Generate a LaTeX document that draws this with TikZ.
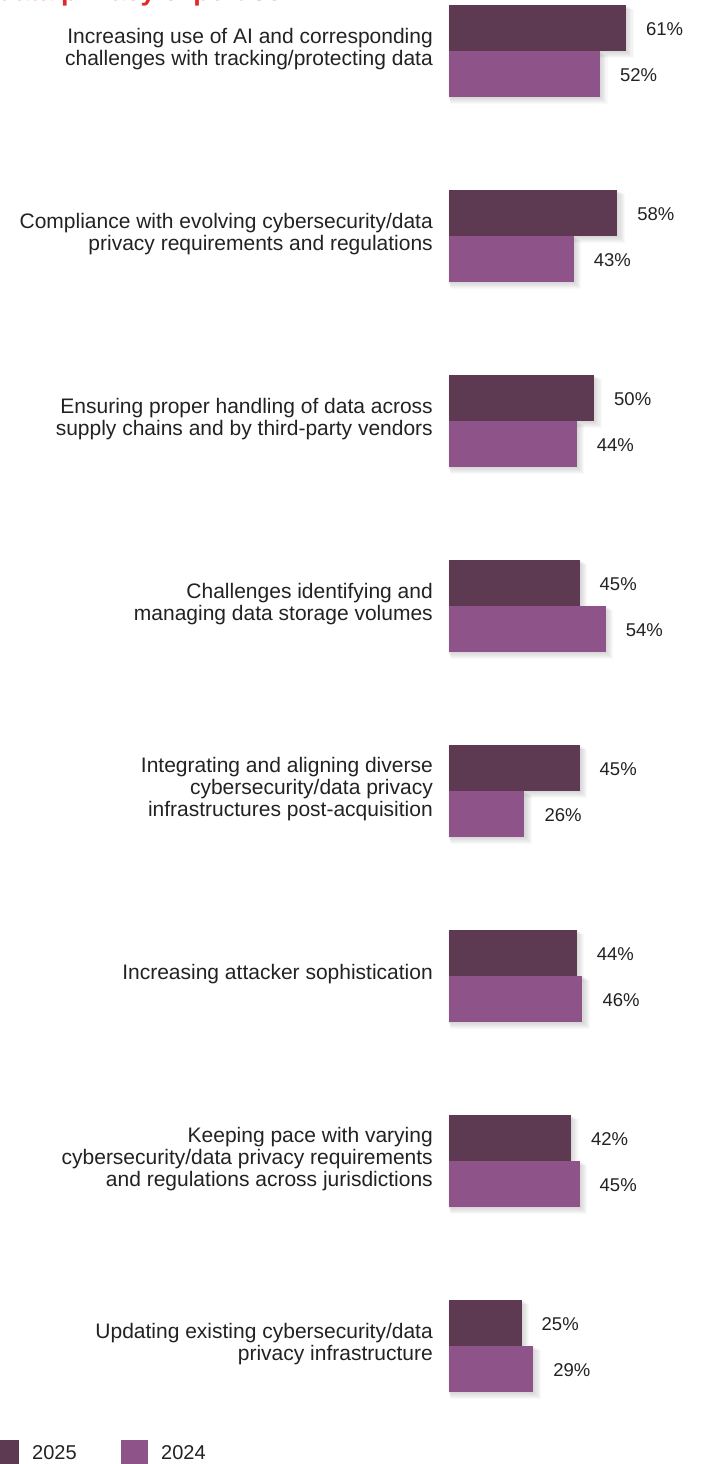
\documentclass[tikz,border=0pt]{standalone}
\usepackage{fontspec}
\setmainfont{Liberation Sans}
\definecolor{darkbar}{HTML}{5E3A52}
\definecolor{lightbar}{HTML}{8E5489}
\definecolor{titlered}{HTML}{E3262B}
\definecolor{txt}{HTML}{222222}
\newcommand\barshadow[3]{% top y, width, height
  \foreach \k in {1,...,7}{\fill[black,opacity=0.022] ({449-1+\k*0.4},{#1+\k*0.6}) rectangle ({449+#2+\k*1.1},{#1+#3+\k*1.0});}%
}
\newcommand\bargroup[5]{% #1 name, #2 top y, #3 category text, #4 value 2025, #5 value 2024
  \barshadow{#2}{2.9*#4}{46}
  \barshadow{#2+46}{2.9*#5}{46}
  \node[barbox, fill=darkbar, minimum width={2.9*#4pt}] (#1a) at (449,#2) {};
  \node[barbox, fill=lightbar, minimum width={2.9*#5pt}] (#1b) at (449,{#2+46}) {};
  \node[val] (#1av) at ([xshift=20pt,yshift=-1pt]#1a.east) {#4\%};
  \node[val] (#1bv) at ([xshift=20pt,yshift=-1pt]#1b.east) {#5\%};
  \node[cat] (#1t) at (433,{#2+44}) {#3};
}
\begin{document}
\begin{tikzpicture}[x=1pt,y=-1pt,
  barbox/.style={anchor=north west, minimum height=46pt, inner sep=0pt, outer sep=0pt, draw=none},
  cat/.style={anchor=east, align=right, inner sep=0pt, text=txt, font=\fontsize{21}{22}\selectfont},
  val/.style={anchor=west, inner sep=0pt, text=txt, font=\fontsize{18.5}{22}\selectfont},
  leg/.style={anchor=west, inner sep=0pt, text=txt, font=\fontsize{20}{22}\selectfont}]
\useasboundingbox (0,0) rectangle (701,1464);
\clip (0,0) rectangle (701,1464);
\node[anchor=base west, inner sep=0pt, text=titlered, font=\bfseries\fontsize{27}{30}\selectfont] (title) at (-2,0.3) {data privacy expertise};
\bargroup{g1}{5}{Increasing use of AI and corresponding\\challenges with tracking/protecting data}{61}{52}
\bargroup{g2}{190}{Compliance with evolving cybersecurity/data\\privacy requirements and regulations}{58}{43}
\bargroup{g3}{375}{Ensuring proper handling of data across\\supply chains and by third-party vendors}{50}{44}
\bargroup{g4}{560}{Challenges identifying and\\managing data storage volumes}{45}{54}
\bargroup{g5}{745}{Integrating and aligning diverse\\cybersecurity/data privacy\\infrastructures post-acquisition}{45}{26}
\bargroup{g6}{930}{Increasing attacker sophistication}{44}{46}
\bargroup{g7}{1115}{Keeping pace with varying\\cybersecurity/data privacy requirements\\and regulations across jurisdictions}{42}{45}
\bargroup{g8}{1300}{Updating existing cybersecurity/data\\privacy infrastructure}{25}{29}
% legend
\node[anchor=north west, minimum width=27pt, minimum height=27pt, inner sep=0pt, fill=darkbar] (k25) at (-8,1440) {};
\node[leg] (l25) at (32,1453) {2025};
\node[anchor=north west, minimum width=27pt, minimum height=27pt, inner sep=0pt, fill=lightbar] (k24) at (121,1440) {};
\node[leg] (l24) at (161,1453) {2024};
\end{tikzpicture}
\end{document}
